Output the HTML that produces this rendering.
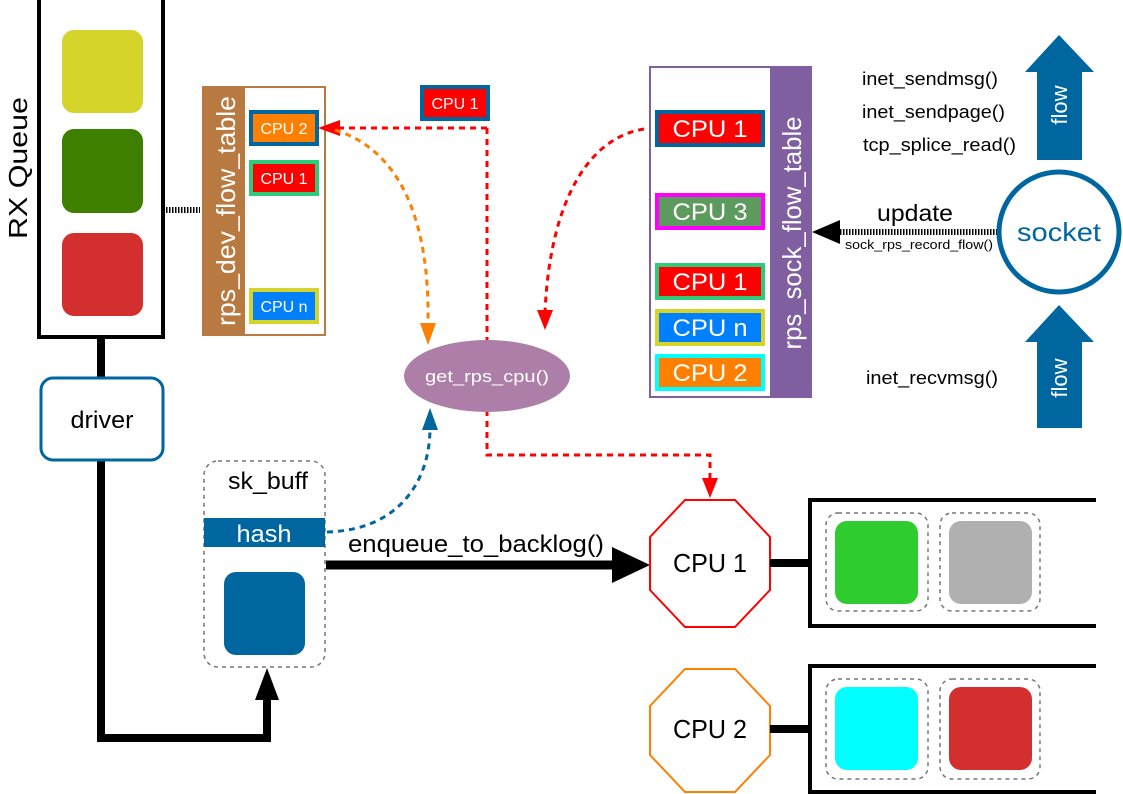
<!DOCTYPE html>
<html><head><meta charset="utf-8"><style>
html,body{margin:0;padding:0;background:#fff;}
svg{display:block;font-family:"Liberation Sans",sans-serif;}
</style></head><body>
<svg width="1123" height="794" viewBox="0 0 1123 794" xmlns="http://www.w3.org/2000/svg">
<!-- RX queue -->
<path d="M39,0 V337 H163 V0" fill="none" stroke="#000" stroke-width="4"/>
<rect x="62" y="30" width="81" height="83" rx="12" fill="#d4d42a"/>
<rect x="62" y="129" width="81" height="84" rx="12" fill="#3f7f00"/>
<rect x="62" y="233" width="81" height="83" rx="12" fill="#d42f2f"/>
<text transform="translate(27,168) rotate(-90)" font-size="26" text-anchor="middle" textLength="142" lengthAdjust="spacingAndGlyphs">RX Queue</text>
<line x1="163" y1="210" x2="200" y2="210" stroke="#000" stroke-width="6" stroke-dasharray="1.5,1.5"/>
<!-- driver path -->
<line x1="101" y1="337" x2="101" y2="378" stroke="#000" stroke-width="8"/>
<path d="M101,460 V738 H267 V690" fill="none" stroke="#000" stroke-width="8"/>
<path d="M255,700 L267,668 L279,700 Z" fill="#000"/>
<rect x="41" y="378" width="122" height="82" rx="12" fill="#fff" stroke="#0066a0" stroke-width="3"/>
<text x="102" y="428" font-size="24" text-anchor="middle" textLength="63" lengthAdjust="spacingAndGlyphs">driver</text>
<!-- rps_dev_flow_table -->
<rect x="203" y="87" width="122" height="248" fill="#fff" stroke="#b87a40" stroke-width="2"/>
<rect x="203" y="87" width="42" height="248" fill="#b87a40"/>
<text transform="translate(235,211) rotate(-90)" font-size="26" fill="#fff" text-anchor="middle" textLength="230" lengthAdjust="spacingAndGlyphs">rps_dev_flow_table</text>
<rect x="251" y="112" width="66" height="32" fill="#ff7f00" stroke="#0066a0" stroke-width="4"/>
<text x="284" y="134" font-size="16" fill="#fff" text-anchor="middle">CPU 2</text>
<rect x="251" y="162" width="66" height="32" fill="#f00" stroke="#2ecc7a" stroke-width="4"/>
<text x="284" y="184" font-size="16" fill="#fff" text-anchor="middle">CPU 1</text>
<rect x="251" y="290" width="66" height="32" fill="#0080ff" stroke="#d4d42a" stroke-width="4"/>
<text x="284" y="312" font-size="16" fill="#fff" text-anchor="middle">CPU n</text>
<rect x="422" y="87" width="66" height="32" fill="#f00" stroke="#0066a0" stroke-width="4"/>
<text x="455" y="109" font-size="16" fill="#fff" text-anchor="middle">CPU 1</text>
<!-- red dashed -->
<path d="M487,128 H335" fill="none" stroke="#f00" stroke-width="3" stroke-dasharray="6,5"/>
<path d="M340,120 L318,128 L340,136 Z" fill="#f00"/>
<path d="M487,128 V340" fill="none" stroke="#f00" stroke-width="3" stroke-dasharray="6,5"/>
<path d="M487,410 V455 H710 V482" fill="none" stroke="#f00" stroke-width="3" stroke-dasharray="6,5"/>
<path d="M702,478 L710,498 L718,478 Z" fill="#f00"/>
<!-- orange curve -->
<path d="M335,130 C400,150 430,220 428,325" fill="none" stroke="#ff7f00" stroke-width="3" stroke-dasharray="6,5"/>
<path d="M420,323 L428,345 L436,323 Z" fill="#ff7f00"/>
<!-- red curve from sock table -->
<path d="M655,128 C590,130 550,200 545,312" fill="none" stroke="#f00" stroke-width="3" stroke-dasharray="6,5"/>
<path d="M537,310 L545,330 L553,310 Z" fill="#f00"/>
<!-- blue curve -->
<path d="M327,532 C400,530 430,480 430,428" fill="none" stroke="#0066a0" stroke-width="3" stroke-dasharray="6,5"/>
<path d="M422,430 L430,408 L438,430 Z" fill="#0066a0"/>
<!-- ellipse -->
<ellipse cx="487" cy="376" rx="83" ry="36" fill="#ad7fa8"/>
<text x="487" y="382" font-size="17" fill="#fff" text-anchor="middle" textLength="124" lengthAdjust="spacingAndGlyphs">get_rps_cpu()</text>
<!-- rps_sock_flow_table -->
<rect x="650" y="67" width="161" height="330" fill="#fff" stroke="#7f5fa0" stroke-width="2"/>
<rect x="770" y="67" width="42" height="331" fill="#7f5fa0"/>
<text transform="translate(801,233) rotate(-90)" font-size="26" fill="#fff" text-anchor="middle" textLength="233" lengthAdjust="spacingAndGlyphs">rps_sock_flow_table</text>
<g font-size="24" fill="#fff" text-anchor="middle">
<rect x="657" y="112" width="106" height="33" fill="#f00" stroke="#0066a0" stroke-width="4"/>
<text x="710" y="137" textLength="75" lengthAdjust="spacingAndGlyphs">CPU 1</text>
<rect x="657" y="195" width="106" height="33" fill="#5d9a5d" stroke="#f0f" stroke-width="4"/>
<text x="710" y="220" textLength="75" lengthAdjust="spacingAndGlyphs">CPU 3</text>
<rect x="657" y="265" width="106" height="33" fill="#f00" stroke="#2ecc7a" stroke-width="4"/>
<text x="710" y="290" textLength="75" lengthAdjust="spacingAndGlyphs">CPU 1</text>
<rect x="657" y="311" width="106" height="33" fill="#0080ff" stroke="#d4d42a" stroke-width="4"/>
<text x="710" y="336" textLength="75" lengthAdjust="spacingAndGlyphs">CPU n</text>
<rect x="657" y="356" width="106" height="33" fill="#ff7f00" stroke="#0ff" stroke-width="4"/>
<text x="710" y="381" textLength="75" lengthAdjust="spacingAndGlyphs">CPU 2</text>
</g>
<!-- update -->
<line x1="840" y1="232" x2="997" y2="232" stroke="#000" stroke-width="6" stroke-dasharray="1.5,1.5"/>
<path d="M840,220 L812,232 L840,244 Z" fill="#000"/>
<text x="915" y="221" font-size="23" text-anchor="middle" textLength="76" lengthAdjust="spacingAndGlyphs">update</text>
<text x="919" y="249" font-size="13" text-anchor="middle" textLength="148" lengthAdjust="spacingAndGlyphs">sock_rps_record_flow()</text>
<circle cx="1059" cy="232" r="60" fill="#fff" stroke="#0066a0" stroke-width="5"/>
<text x="1059" y="241" font-size="26" fill="#0066a0" text-anchor="middle" textLength="84" lengthAdjust="spacingAndGlyphs">socket</text>
<!-- function labels -->
<g font-size="18">
<text x="862" y="85" textLength="136" lengthAdjust="spacingAndGlyphs">inet_sendmsg()</text>
<text x="862" y="118" textLength="143" lengthAdjust="spacingAndGlyphs">inet_sendpage()</text>
<text x="863" y="151" textLength="153" lengthAdjust="spacingAndGlyphs">tcp_splice_read()</text>
<text x="866" y="384" textLength="132" lengthAdjust="spacingAndGlyphs">inet_recvmsg()</text>
</g>
<!-- flow arrows -->
<path d="M1037,160 V72 H1025 L1059,35 L1094,72 H1082 V160 Z" fill="#0066a0"/>
<text transform="translate(1067,105) rotate(-90)" font-size="22" fill="#fff" text-anchor="middle">flow</text>
<path d="M1037,428 V342 H1025 L1059,305 L1094,342 H1082 V428 Z" fill="#0066a0"/>
<text transform="translate(1067,378) rotate(-90)" font-size="22" fill="#fff" text-anchor="middle">flow</text>
<!-- sk_buff -->
<rect x="204" y="461" width="121" height="206" rx="14" fill="#fff" stroke="#777" stroke-width="1.5" stroke-dasharray="4,4"/>
<text x="268" y="489" font-size="24" text-anchor="middle" textLength="80" lengthAdjust="spacingAndGlyphs">sk_buff</text>
<rect x="204" y="518" width="121" height="29" fill="#0066a0"/>
<text x="264" y="542" font-size="24" fill="#fff" text-anchor="middle" textLength="55" lengthAdjust="spacingAndGlyphs">hash</text>
<rect x="224" y="572" width="81" height="83" rx="12" fill="#0066a0"/>
<!-- enqueue -->
<line x1="326" y1="565" x2="620" y2="565" stroke="#000" stroke-width="9"/>
<path d="M612,547 L650,565 L612,583 Z" fill="#000"/>
<text x="476" y="552" font-size="24" text-anchor="middle" textLength="256" lengthAdjust="spacingAndGlyphs">enqueue_to_backlog()</text>
<!-- CPU octagons -->
<polygon points="685,500 735,500 770,537 770,590 735,627 685,627 650,590 650,537" fill="#fff" stroke="#f00" stroke-width="2"/>
<text x="710" y="572" font-size="26" text-anchor="middle" textLength="74" lengthAdjust="spacingAndGlyphs">CPU 1</text>
<polygon points="685,669 735,669 770,706 770,755 735,792 685,792 650,755 650,706" fill="#fff" stroke="#ff7f00" stroke-width="2"/>
<text x="710" y="738" font-size="26" text-anchor="middle" textLength="74" lengthAdjust="spacingAndGlyphs">CPU 2</text>
<!-- queues -->
<line x1="770" y1="563" x2="810" y2="563" stroke="#000" stroke-width="8"/>
<path d="M1096,500 H810 V626 H1096" fill="none" stroke="#000" stroke-width="4"/>
<rect x="826" y="513" width="102" height="98" rx="12" fill="none" stroke="#777" stroke-width="1.5" stroke-dasharray="4,4"/>
<rect x="940" y="513" width="100" height="98" rx="12" fill="none" stroke="#777" stroke-width="1.5" stroke-dasharray="4,4"/>
<rect x="835" y="521" width="83" height="83" rx="12" fill="#2ecc2e"/>
<rect x="949" y="521" width="83" height="83" rx="12" fill="#b0b0b0"/>
<line x1="770" y1="729" x2="810" y2="729" stroke="#000" stroke-width="8"/>
<path d="M1096,666 H810 V792 H1096" fill="none" stroke="#000" stroke-width="4"/>
<rect x="826" y="679" width="102" height="100" rx="12" fill="none" stroke="#777" stroke-width="1.5" stroke-dasharray="4,4"/>
<rect x="940" y="679" width="100" height="100" rx="12" fill="none" stroke="#777" stroke-width="1.5" stroke-dasharray="4,4"/>
<rect x="835" y="687" width="83" height="83" rx="12" fill="#0ff"/>
<rect x="949" y="687" width="83" height="83" rx="12" fill="#d42f2f"/>
</svg>
</body></html>
